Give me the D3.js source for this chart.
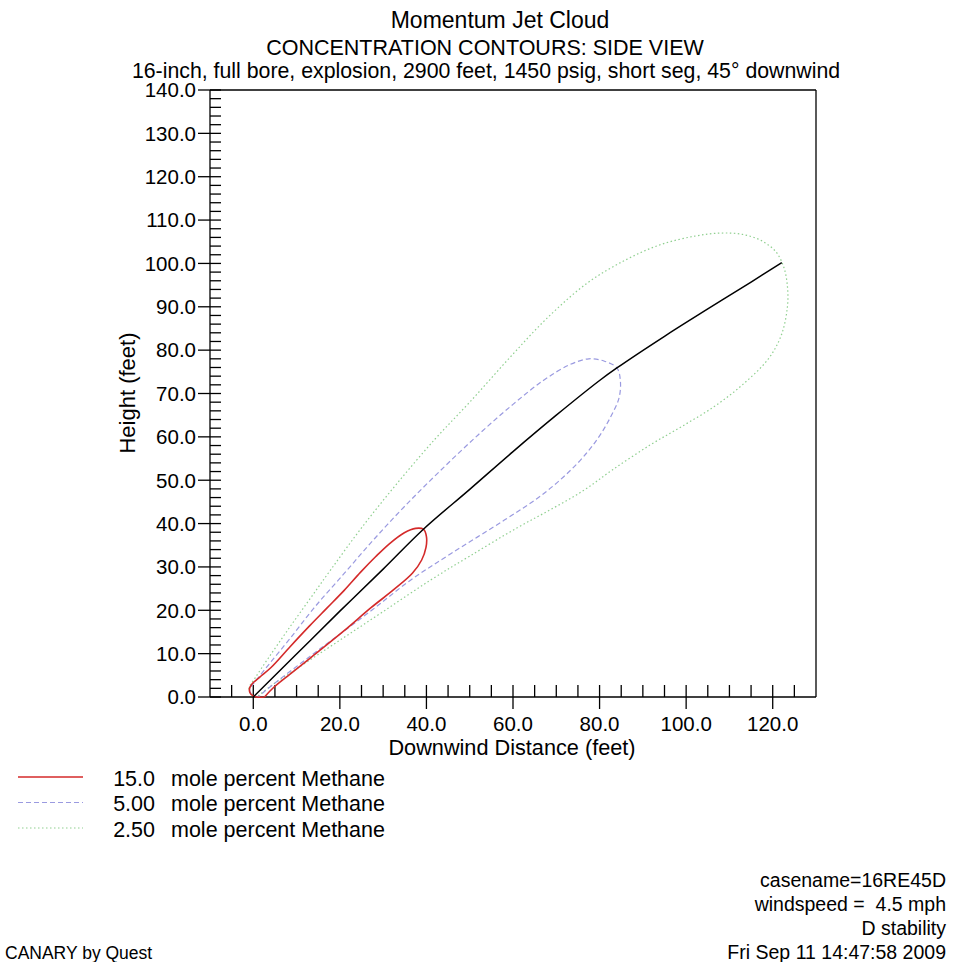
<!DOCTYPE html>
<html>
<head>
<meta charset="utf-8">
<script src="https://cdn.jsdelivr.net/npm/d3@7"></script>
<style>
  body { margin: 0; background: #fff; }
  svg text { font-family: "Liberation Sans", Arial, sans-serif; fill: #000; white-space: pre; }
</style>
</head>
<body>
<div id="chart"></div>
<script>
// axis tick labels
var xTicks = [0, 20, 40, 60, 80, 100, 120];
var yTicks = [0, 10, 20, 30, 40, 50, 60, 70, 80, 90, 100, 110, 120, 130, 140];

// plume centerline (feet)
var centerline = [[0, 0], [10, 9.9], [20, 19.8], [30, 29.5], [39.3, 38.7], [50, 47.9],
  [60, 56.6], [70, 65], [80, 73], [84, 75.9], [95, 83.2], [105, 89.5], [115, 95.7], [122.1, 100.2]];

// 15.0 mole percent contour
var contour15 = [[2.6, 0], [0.8, 0], [-0.6, 0.7], [-0.9, 1.8], [-0.3, 3], [1.5, 4.6], [4.1, 6.8],
  [8.5, 11.6], [13, 16.4], [17, 20.5], [21, 24.6], [24.8, 28.8], [28.3, 32.4], [31.5, 35.4],
  [34.9, 37.9], [37.5, 38.9], [39.3, 38.7], [40, 37], [39.9, 34.5], [38.9, 31.6], [36.8, 28.6],
  [32.5, 24.8], [27.2, 20.6], [21, 15.3], [13.3, 9.1], [8.5, 5.3], [4.8, 2.3], [2.6, 0]];

// 5.00 mole percent contour
var contour5 = [[1.2, 0], [-0.4, 0.6], [-0.8, 1.8], [0.8, 4], [4, 8], [8.5, 13.5], [14, 20.5],
  [21, 28.5], [28, 36.5], [35, 44], [43, 52], [52, 60.5], [60, 67.5], [67, 73], [73, 76.6],
  [77.5, 78], [81, 77.5], [84, 75.9], [84.8, 73], [84.5, 69], [82.5, 64.5], [79.5, 59.5],
  [74.9, 53.9], [67.2, 47], [58, 40.8], [45.7, 33.1], [36.4, 27], [28, 20.5], [20, 14.5],
  [13, 9.3], [6, 4], [2.5, 1.2], [1.2, 0]];

// 2.50 mole percent contour
var contour25 = [[0.8, 0], [-0.6, 0.7], [-1, 2], [0.5, 4.5], [3.5, 9], [8, 15.5], [13, 22.5],
  [18, 29.5], [25, 39], [33, 49], [42, 59.5], [50, 68], [59, 78], [68, 87.5], [77.2, 95.5],
  [86, 100.8], [94, 104.3], [102, 106.3], [108, 107], [113, 106.7], [117.5, 105.2], [120.8, 102.6],
  [122.6, 99], [123.4, 94.7], [123.4, 90], [122, 83.5], [119, 78], [113, 72], [106.5, 67],
  [99, 62.4], [91.8, 58.2], [83, 52.4], [76.4, 47.7], [69, 43.4], [61.1, 39.1], [50, 32.5],
  [41, 27], [30, 19.7], [20, 13.1], [10, 6.5], [4, 2.5], [0.8, 0]];

var legendLabels = ["15.0", "5.00", "2.50"];
var legendText = "mole percent Methane";
var footerRight = ["casename=16RE45D", "windspeed =  4.5 mph", "D stability", "Fri Sep 11 14:47:58 2009"];

var width = 963, height = 962;
var plotLeft = 210, plotRight = 816, plotTop = 90, plotBottom = 697;

var svg = d3.select("#chart").append("svg")
  .attr("width", width)
  .attr("height", height);

var x = d3.scaleLinear().domain([-10, 130]).range([plotLeft, plotRight]);
var y = d3.scaleLinear().domain([0, 140]).range([plotBottom, plotTop]);

// titles
svg.append("text").attr("x", 500).attr("y", 28).attr("text-anchor", "middle")
  .style("font-size", "23px").text("Momentum Jet Cloud");
svg.append("text").attr("x", 485).attr("y", 55).attr("text-anchor", "middle")
  .style("font-size", "21.5px").text("CONCENTRATION CONTOURS: SIDE VIEW");
svg.append("text").attr("x", 486).attr("y", 78).attr("text-anchor", "middle")
  .style("font-size", "21.3px")
  .text("16-inch, full bore, explosion, 2900 feet, 1450 psig, short seg, 45\u00b0 downwind");

// frame
var axisG = svg.append("g").attr("stroke", "#000").attr("fill", "none").attr("stroke-width", 1.3);
axisG.append("line").attr("x1", plotLeft).attr("x2", plotRight).attr("y1", plotTop).attr("y2", plotTop);
axisG.append("line").attr("x1", plotRight).attr("x2", plotRight).attr("y1", plotTop).attr("y2", plotBottom);
axisG.append("line").attr("x1", plotLeft).attr("x2", plotRight).attr("y1", plotBottom).attr("y2", plotBottom);
axisG.append("line").attr("x1", plotLeft).attr("x2", plotLeft).attr("y1", plotTop).attr("y2", plotBottom);

// x ticks: minor every 5, major every 20
var xMinor = d3.range(-5, 130, 5).filter(function (v) { return v % 20 !== 0; });
axisG.selectAll(".xminor").data(xMinor).enter().append("line")
  .attr("x1", function (d) { return x(d); }).attr("x2", function (d) { return x(d); })
  .attr("y1", plotBottom).attr("y2", plotBottom - 12);
axisG.selectAll(".xmajor").data(xTicks).enter().append("line")
  .attr("x1", function (d) { return x(d); }).attr("x2", function (d) { return x(d); })
  .attr("y1", plotBottom + 12).attr("y2", plotBottom - 12);

// y ticks: minor every 2, major every 10
var yMinor = d3.range(2, 140, 2).filter(function (v) { return v % 10 !== 0; });
axisG.selectAll(".yminor").data(yMinor).enter().append("line")
  .attr("x1", plotLeft).attr("x2", plotLeft + 11)
  .attr("y1", function (d) { return y(d); }).attr("y2", function (d) { return y(d); });
axisG.selectAll(".ymajor").data(yTicks).enter().append("line")
  .attr("x1", plotLeft - 12).attr("x2", plotLeft + 11)
  .attr("y1", function (d) { return y(d); }).attr("y2", function (d) { return y(d); });

svg.selectAll(".xlab").data(xTicks).enter().append("text")
  .attr("x", function (d) { return x(d); }).attr("y", plotBottom + 34)
  .attr("text-anchor", "middle").style("font-size", "20.5px")
  .text(function (d) { return d.toFixed(1); });
svg.selectAll(".ylab").data(yTicks).enter().append("text")
  .attr("x", plotLeft - 14).attr("y", function (d) { return y(d) + 7.3; })
  .attr("text-anchor", "end").style("font-size", "20.5px")
  .text(function (d) { return d.toFixed(1); });

svg.append("text").attr("x", 512).attr("y", 755).attr("text-anchor", "middle")
  .style("font-size", "21.7px").text("Downwind Distance (feet)");
svg.append("text").attr("transform", "translate(135,393) rotate(-90)")
  .attr("text-anchor", "middle").style("font-size", "22px").text("Height (feet)");

// contours
var line = d3.line()
  .x(function (d) { return x(d[0]); })
  .y(function (d) { return y(d[1]); })
  .curve(d3.curveCatmullRom.alpha(0.5));

var plot = svg.append("g");
plot.append("path").datum(contour25).attr("d", line)
  .attr("fill", "none").attr("stroke", "#8fcf8f").attr("stroke-width", 1.2).attr("stroke-dasharray", "1.5,2.5");
plot.append("path").datum(contour5).attr("d", line)
  .attr("fill", "none").attr("stroke", "#9a9ae0").attr("stroke-width", 1.2).attr("stroke-dasharray", "5,3");
plot.append("path").datum(contour15).attr("d", line)
  .attr("fill", "none").attr("stroke", "#d42a2a").attr("stroke-width", 1.6);
plot.append("path").datum(centerline).attr("d", line)
  .attr("fill", "none").attr("stroke", "#000").attr("stroke-width", 1.5);

// legend
var legStyles = [
  { stroke: "#d42a2a", dash: null, w: 1.6 },
  { stroke: "#9a9ae0", dash: "5,3", w: 1.2 },
  { stroke: "#8fcf8f", dash: "1.5,2.5", w: 1.2 }
];
var leg = svg.append("g");
legendLabels.forEach(function (lab, i) {
  var ly = 777 + i * 25.5;
  leg.append("line").attr("x1", 18).attr("x2", 83).attr("y1", ly).attr("y2", ly)
    .attr("stroke", legStyles[i].stroke).attr("stroke-width", legStyles[i].w)
    .attr("stroke-dasharray", legStyles[i].dash);
  leg.append("text").attr("x", 155).attr("y", ly + 8.5).attr("text-anchor", "end")
    .style("font-size", "21.5px").text(lab);
  leg.append("text").attr("x", 171).attr("y", ly + 8.5)
    .style("font-size", "21.5px").text(legendText);
});

// footer
footerRight.forEach(function (t, i) {
  svg.append("text").attr("x", 946).attr("y", 886.5 + i * 24).attr("text-anchor", "end")
    .style("font-size", "19.5px").text(t);
});
svg.append("text").attr("x", 5).attr("y", 958.5).style("font-size", "17.5px").text("CANARY by Quest");
</script>
</body>
</html>
